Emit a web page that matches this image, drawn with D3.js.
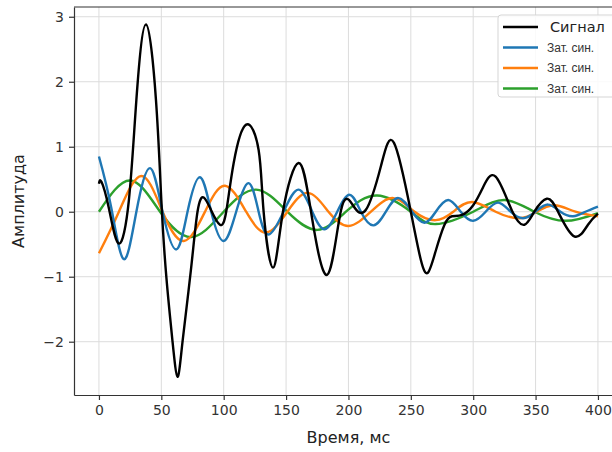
<!DOCTYPE html>
<html>
<head>
<meta charset="utf-8">
<script src="https://cdn.jsdelivr.net/npm/d3@7"></script>
<style>
  body { margin: 0; background: #fff; }
  svg { display: block; font-family: "DejaVu Sans", sans-serif; }
</style>
</head>
<body>
<div id="chart"></div>
<script>
// values: [time ms, amplitude]
const signal = [[0,0.43],[2,0.46],[8,0.05],[16,-0.49],[24,0.18],[30,1.72],[37.7,2.88],[45.7,1.72],[50,0.18],
  [54,-1.0],[59,-2.0],[63,-2.54],[67,-2.0],[73.7,-0.9],[79,0],[84,0.22],[90,0.02],[97,-0.2],[102,0],[108,0.75],
  [118,1.34],[128,0.95],[132,0],[139.5,-0.86],[147.5,0],[160,0.75],[170,0],[183,-0.97],[194,0.02],[203.6,0.1],
  [214,0.03],[226,0.7],[236.5,1.06],[250,0],[258,-0.74],[263.6,-0.94],[270,-0.6],[277,-0.2],[283,-0.07],
  [291,-0.05],[300,0.1],[308,0.38],[318,0.54],[331,0.02],[341,-0.2],[349,0],[359,0.2],[368,0],[381,-0.38],[392,-0.2],[400,-0.03]]
const blue = [[0,0.85],[10,0.05],[20,-0.73],[30,0],[41,0.67],[51,0],[62,-0.58],[71,0],[81,0.53],[90,0],[100,-0.45],
  [110,0],[120,0.44],[128,0],[136,-0.35],[148,0],[160,0.34],[171,0],[181,-0.27],[191,0],[201,0.26],[210,0],[220,-0.21],
  [230,0],[240,0.21],[251,0],[261,-0.17],[270,0],[280,0.18],[290,0],[300,-0.14],[310,0],[320,0.14],[330,0],
  [340,-0.1],[350,0],[360,0.11],[370,0],[380,-0.07],[390,0],[400,0.08]]
const orange = [[0,-0.64],[16,0],[34,0.55],[51,0],[68,-0.45],[85,0],[101,0.40],[118,0],[134,-0.32],[151,0],
  [167.5,0.29],[184,0],[200,-0.22],[218,0],[236,0.21],[253,0],[270,-0.13],[284,0],[299,0.15],[318,0],
  [337,-0.1],[351,0],[365,0.1],[382,0],[400,-0.07]]
const green = [[0,0],[25,0.48],[49,0],[74,-0.39],[100,0],[126,0.34],[151,0],[175,-0.28],[198,0],[223,0.25],
  [250,0],[270,-0.19],[300,0],[325,0.18],[349,0],[374,-0.14],[400,-0.02]]

const seriesNames = ["Сигнал", "Зат. син.", "Зат. син.", "Зат. син."]
const seriesColors = ["#000000", "#1f77b4", "#ff7f0e", "#2ca02c"]
const xTicks = [0, 50, 100, 150, 200, 250, 300, 350, 400]
const yTicks = [-2, -1, 0, 1, 2, 3]

const width = 612
const height = 452
const margin = ({ top: 7, left: 74, bottom: 395 })

const svg = d3.select("#chart").append("svg")
    .attr("width", width)
    .attr("height", height)

const xScale = d3.scaleLinear().domain([-20, 420]).range([margin.left, margin.left + 440 * 1.2475])
const yScale = d3.scaleLinear().domain([-2.82, 3.15]).range([margin.bottom, margin.top])

// grid
svg.append("g")
    .selectAll("line")
    .data(xTicks)
    .enter().append("line")
    .attr("x1", d => xScale(d)).attr("x2", d => xScale(d))
    .attr("y1", margin.top).attr("y2", margin.bottom)
    .attr("stroke", "#dcdcdc").attr("stroke-width", 1)
svg.append("g")
    .selectAll("line")
    .data(yTicks)
    .enter().append("line")
    .attr("x1", margin.left).attr("x2", xScale(420))
    .attr("y1", d => yScale(d)).attr("y2", d => yScale(d))
    .attr("stroke", "#dcdcdc").attr("stroke-width", 1)

// curves
const line = d3.line()
    .x(d => xScale(d[0]))
    .y(d => yScale(d[1]))
    .curve(d3.curveNatural)

const allSeries = [green, orange, blue, signal]
const drawColors = [seriesColors[3], seriesColors[2], seriesColors[1], seriesColors[0]]
svg.append("g")
    .selectAll("path")
    .data(allSeries)
    .enter().append("path")
    .attr("d", d => line(d))
    .attr("fill", "none")
    .attr("stroke", (d, i) => drawColors[i])
    .attr("stroke-width", 2.4)
    .attr("stroke-linejoin", "round")

// axes
const xAxis = svg.append("g")
    .attr("transform", `translate(0,${margin.bottom})`)
    .call(d3.axisBottom(xScale).tickValues(xTicks).tickSizeInner(5).tickSizeOuter(0).tickPadding(5))
const yAxis = svg.append("g")
    .attr("transform", `translate(${margin.left},0)`)
    .call(d3.axisLeft(yScale).tickValues(yTicks).tickSizeInner(5).tickSizeOuter(0).tickPadding(5).tickFormat(d3.format("d")))

for (const ax of [xAxis, yAxis]) {
    ax.select(".domain").attr("stroke", "#333").attr("stroke-width", 1.2)
    ax.selectAll(".tick line").attr("stroke", "#333").attr("stroke-width", 1.2)
    ax.selectAll(".tick text").attr("fill", "#333").attr("font-size", 14)
        .attr("font-family", "DejaVu Sans")
}
yAxis.selectAll(".tick text").text(d => d < 0 ? "\u2212" + Math.abs(d) : d)
svg.append("line")
    .attr("x1", margin.left).attr("x2", xScale(420))
    .attr("y1", margin.top).attr("y2", margin.top)
    .attr("stroke", "#333").attr("stroke-width", 1.2)

// labels
svg.append("text")
    .attr("x", (margin.left + xScale(420)) / 2)
    .attr("y", 443)
    .attr("text-anchor", "middle")
    .attr("font-size", 16)
    .attr("fill", "#222")
    .text("Время, мс")
svg.append("text")
    .attr("transform", `translate(24,${(margin.top + margin.bottom) / 2}) rotate(-90)`)
    .attr("text-anchor", "middle")
    .attr("font-size", 16)
    .attr("fill", "#222")
    .text("Амплитуда")

// legend
const legend = svg.append("g")
legend.append("rect")
    .attr("x", 498).attr("y", 15).attr("width", 120).attr("height", 82)
    .attr("rx", 3)
    .attr("fill", "#fff").attr("fill-opacity", 0.85)
    .attr("stroke", "#d5d5d5")
const entries = legend.selectAll("g")
    .data(seriesNames)
    .enter().append("g")
    .attr("transform", (d, i) => `translate(0,${27 + i * 20.5})`)
entries.append("line")
    .attr("x1", 503).attr("x2", 538)
    .attr("stroke", (d, i) => seriesColors[i])
    .attr("stroke-width", 2.4)
entries.append("text")
    .attr("x", (d, i) => i === 0 ? 550 : 547)
    .attr("dy", "0.35em")
    .attr("font-size", (d, i) => i === 0 ? 14.5 : 12)
    .attr("font-family", (d, i) => i === 0 ? "DejaVu Sans" : "Liberation Sans")
    .attr("fill", (d, i) => i === 0 ? "#222" : "#333")
    .text(d => d)
</script>
</body>
</html>
